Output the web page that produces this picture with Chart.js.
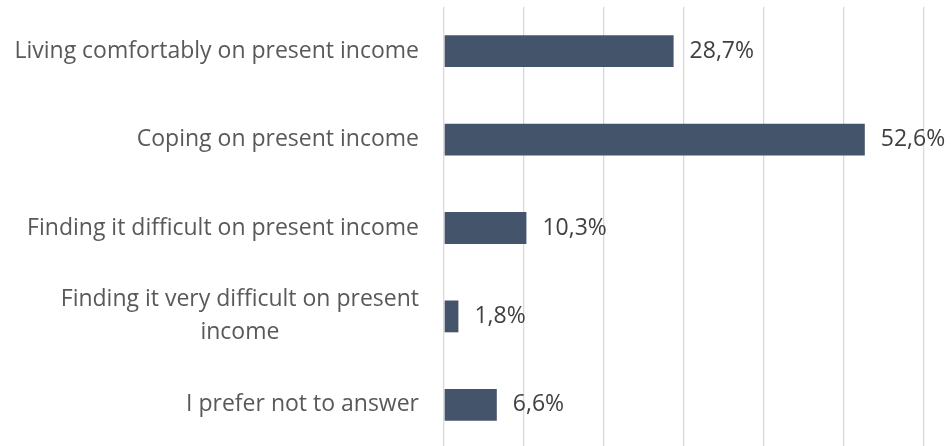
<!DOCTYPE html>
<html>
<head>
<meta charset="utf-8">
<script src="https://cdn.jsdelivr.net/npm/chart.js@4"></script>
<style>
  html, body { margin: 0; padding: 0; background: #fff; overflow: hidden; }
  #wrap { width: 951px; height: 449px; position: relative; }
</style>
</head>
<body>
<div id="wrap"><canvas id="incomeChart"></canvas></div>
<script>
// data
const categories = [
    ['Living comfortably on present income'],
    ['Coping on present income'],
    ['Finding it difficult on present income'],
    ['Finding it very difficult on present', 'income'],
    ['I prefer not to answer']
];
const shares = [28.7, 52.6, 10.3, 1.8, 6.6];
const xTicks = [0, 10, 20, 30, 40, 50, 60];

const FONT = '"Open Sans", sans-serif';

// vẽ nhãn danh mục + nhãn giá trị
const labelPlugin = {
    id: 'labelPlugin',
    afterDatasetsDraw(chart) {
        const ctx = chart.ctx;
        const yScale = chart.scales.y;
        const area = chart.chartArea;
        ctx.save();
        ctx.font = '23px ' + FONT;
        ctx.textBaseline = 'middle';

        // nhãn danh mục bên trái
        ctx.fillStyle = '#595959';
        categories.forEach((lines, i) => {
            const yc = yScale.getPixelForTick(i);
            const right = area.left - 25;
            const lh = 33;
            const widths = lines.map(l => ctx.measureText(l).width);
            const blockW = Math.max(...widths);
            const top = yc - (lines.length - 1) * lh / 2;
            lines.forEach((l, j) => {
                ctx.textAlign = 'center';
                ctx.fillText(l, right - blockW / 2, top + j * lh);
            });
        });

        // nhãn giá trị
        ctx.fillStyle = '#404040';
        ctx.textAlign = 'left';
        const meta = chart.getDatasetMeta(0);
        meta.data.forEach((bar, i) => {
            ctx.fillText(shares[i].toFixed(1).replace('.', ',') + '%', bar.x + 16, bar.y);
        });
        ctx.restore();
    }
};

const config = {
    type: 'bar',
    data: {
        labels: categories.map(c => c.join(' ')),
        datasets: [{
            data: shares,
            backgroundColor: '#44546A',
            borderWidth: 0,
            categoryPercentage: 0.72,
            barPercentage: 0.5
        }]
    },
    options: {
        indexAxis: 'y',
        responsive: true,
        maintainAspectRatio: false,
        animation: false,
        layout: { padding: { left: 444, right: 27, top: 7, bottom: 0 } },
        plugins: {
            legend: { display: false },
            tooltip: { enabled: false }
        },
        scales: {
            x: {
                min: 0,
                max: 60,
                afterBuildTicks: (scale) => { scale.ticks = xTicks.map(v => ({ value: v })); },
                ticks: { display: false },
                grid: { color: '#D9D9D9', lineWidth: 1.3, drawTicks: false },
                border: { display: false }
            },
            y: {
                ticks: { display: false },
                grid: { display: false, drawTicks: false },
                border: { display: false }
            }
        }
    },
    plugins: [labelPlugin]
};

const ctx = document.getElementById('incomeChart').getContext('2d');
const incomeChart = new Chart(ctx, config);
</script>
</body>
</html>
